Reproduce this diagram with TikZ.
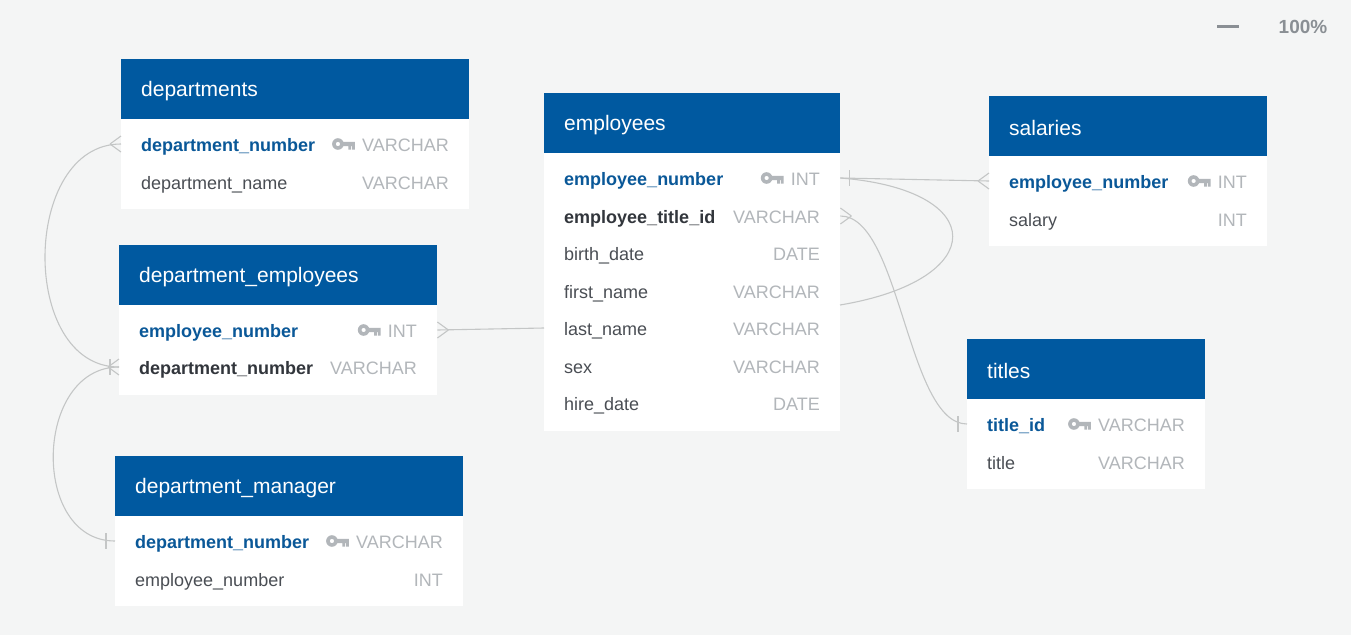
\documentclass[tikz,border=0pt]{standalone}
\usepackage{fontspec}
\setmainfont{Liberation Sans}
\usepackage{tikz}
\usetikzlibrary{positioning}
\definecolor{bgcol}{RGB}{244,245,245}
\definecolor{hdblue}{RGB}{0,89,160}
\definecolor{pkblue}{RGB}{10,88,152}
\definecolor{fkgray}{RGB}{50,54,60}
\definecolor{colgray}{RGB}{74,78,84}
\definecolor{typgray}{RGB}{178,182,186}
\definecolor{linkgray}{RGB}{196,198,198}
\definecolor{uigray}{RGB}{138,143,148}
\tikzset{
	headbox/.style={fill=hdblue, anchor=north west, minimum height=60pt, inner sep=0pt},
	headtext/.style={text=white, inner sep=0pt, yshift=-2pt, font=\fontsize{21}{25}\selectfont},
	bodybox/.style={fill=white, anchor=north west, inner sep=0pt},
	pkcol/.style={anchor=west, inner sep=0pt, text=pkblue, text height=15.5pt, text depth=1.5pt, font=\fontsize{18}{22}\selectfont\bfseries},
	fkcol/.style={pkcol, text=fkgray},
	col/.style={pkcol, text=colgray, font=\fontsize{18}{22}\selectfont},
	typ/.style={col, anchor=east, text=typgray},
	link/.style={draw=linkgray, line width=1.1pt},
	crow/.pic={\draw[link] (-11,0) -- (0,-8) (-11,0) -- (0,8);},
	onebar/.pic={\draw[link] (-9,-8) -- (-9,8);},
	pkey/.pic={
		\fill[typgray, even odd rule] (-17,0) circle (5.8) (-17,0) circle (2.2);
		\fill[typgray] (-13,-2.2) rectangle (0,2.2) (-6.5,2) rectangle (-3.8,5.5) (-2.7,2) rectangle (0,5.5);
	}
}
\begin{document}
\begin{tikzpicture}[x=1pt, y=-1pt]
	\fill[bgcol] (0,0) rectangle (1351,635);
	\useasboundingbox (0,0) rectangle (1351,635);

	% departments
	\node[bodybox, minimum width=348pt, minimum height=90pt] (dep-body) at (121,119) {};
	\node[headbox, minimum width=348pt] (dep) at (121,59) {};
	\node[headtext, right=20pt of dep.west] (dep-t) {departments};
	\node[pkcol] (dep-num) at (141,144) {department\_number};
	\node[typ] (dep-num-t) at (449,144) {VARCHAR};
	\pic at ([xshift=-7pt]dep-num-t.west) {pkey};
	\node[col] (dep-name) at (141,182) {department\_name};
	\node[typ] (dep-name-t) at (449,182) {VARCHAR};

	% department_employees
	\node[bodybox, minimum width=318pt, minimum height=90pt] (de-body) at (119,305) {};
	\node[headbox, minimum width=318pt] (de) at (119,245) {};
	\node[headtext, right=20pt of de.west] (de-t) {department\_employees};
	\node[pkcol] (de-enum) at (139,330) {employee\_number};
	\node[typ] (de-enum-t) at (417,330) {INT};
	\pic at ([xshift=-7pt]de-enum-t.west) {pkey};
	\node[fkcol] (de-dnum) at (139,367) {department\_number};
	\node[typ] (de-dnum-t) at (417,367) {VARCHAR};

	% department_manager
	\node[bodybox, minimum width=348pt, minimum height=90pt] (dm-body) at (115,516) {};
	\node[headbox, minimum width=348pt] (dm) at (115,456) {};
	\node[headtext, right=20pt of dm.west] (dm-t) {department\_manager};
	\node[pkcol] (dm-dnum) at (135,541) {department\_number};
	\node[typ] (dm-dnum-t) at (443,541) {VARCHAR};
	\pic at ([xshift=-7pt]dm-dnum-t.west) {pkey};
	\node[col] (dm-enum) at (135,579) {employee\_number};
	\node[typ] (dm-enum-t) at (443,579) {INT};

	% employees
	\node[bodybox, minimum width=296pt, minimum height=278pt] (emp-body) at (544,153) {};
	\node[headbox, minimum width=296pt] (emp) at (544,93) {};
	\node[headtext, right=20pt of emp.west] (emp-t) {employees};
	\node[pkcol] (emp-num) at (564,178) {employee\_number};
	\node[typ] (emp-num-t) at (820,178) {INT};
	\pic at ([xshift=-7pt]emp-num-t.west) {pkey};
	\node[fkcol] (emp-tid) at (564,216) {employee\_title\_id};
	\node[typ] (emp-tid-t) at (820,216) {VARCHAR};
	\node[col] (emp-bdate) at (564,253) {birth\_date};
	\node[typ] (emp-bdate-t) at (820,253) {DATE};
	\node[col] (emp-fname) at (564,291) {first\_name};
	\node[typ] (emp-fname-t) at (820,291) {VARCHAR};
	\node[col] (emp-lname) at (564,328) {last\_name};
	\node[typ] (emp-lname-t) at (820,328) {VARCHAR};
	\node[col] (emp-sex) at (564,366) {sex};
	\node[typ] (emp-sex-t) at (820,366) {VARCHAR};
	\node[col] (emp-hdate) at (564,403) {hire\_date};
	\node[typ] (emp-hdate-t) at (820,403) {DATE};
	\coordinate (emp-in) at (840,305);

	% salaries
	\node[bodybox, minimum width=278pt, minimum height=90pt] (sal-body) at (989,156) {};
	\node[headbox, minimum width=278pt] (sal) at (989,96) {};
	\node[headtext, right=20pt of sal.west] (sal-t) {salaries};
	\node[pkcol] (sal-num) at (1009,181) {employee\_number};
	\node[typ] (sal-num-t) at (1247,181) {INT};
	\pic at ([xshift=-7pt]sal-num-t.west) {pkey};
	\node[col] (sal-sal) at (1009,219) {salary};
	\node[typ] (sal-sal-t) at (1247,219) {INT};

	% titles
	\node[bodybox, minimum width=238pt, minimum height=90pt] (tit-body) at (967,399) {};
	\node[headbox, minimum width=238pt] (tit) at (967,339) {};
	\node[headtext, right=20pt of tit.west] (tit-t) {titles};
	\node[pkcol] (tit-id) at (987,424) {title\_id};
	\node[typ] (tit-id-t) at (1185,424) {VARCHAR};
	\pic at ([xshift=-7pt]tit-id-t.west) {pkey};
	\node[col] (tit-title) at (987,462) {title};
	\node[typ] (tit-title-t) at (1185,462) {VARCHAR};

	% links
	\draw[link] (dep-body.west |- dep-num) .. controls +(-100,0) and +(-100,0) .. (de-body.west |- de-dnum);
	\draw[link] (dm-body.west |- dm-dnum) .. controls +(-85,0) and +(-85,0) .. (de-body.west |- de-dnum);
	\draw[link] (de-body.east |- de-enum) -- (emp-body.west |- emp-lname);
	\draw[link] (emp-body.east |- emp-num) -- (sal-body.west |- sal-num);
	\draw[link] (emp-body.east |- emp-num) .. controls +(150,12) and +(150,-25) .. (emp-in);
	\draw[link] (emp-body.east |- emp-tid) .. controls +(60,0) and +(-60,0) .. (tit-body.west |- tit-id);

	\pic at (dep-body.west |- dep-num) {crow};
	\pic at (de-body.west |- de-dnum) {crow};
	\pic at (de-body.west |- de-dnum) {onebar};
	\pic at (dm-body.west |- dm-dnum) {onebar};
	\pic[xscale=-1] at (de-body.east |- de-enum) {crow};
	\pic[xscale=-1] at (emp-body.east |- emp-num) {onebar};
	\pic[xscale=-1] at (emp-body.east |- emp-tid) {crow};
	\pic at (sal-body.west |- sal-num) {crow};
	\pic at (tit-body.west |- tit-id) {onebar};

	% zoom
	\node[fill=uigray, minimum width=22pt, minimum height=3pt, inner sep=0pt] (zoom-dash) at (1228,26) {};
	\node[text=uigray, font=\fontsize{19}{23}\selectfont\bfseries, inner sep=0pt] (zoom-pct) at (1303,27) {100\%};
\end{tikzpicture}
\end{document}
